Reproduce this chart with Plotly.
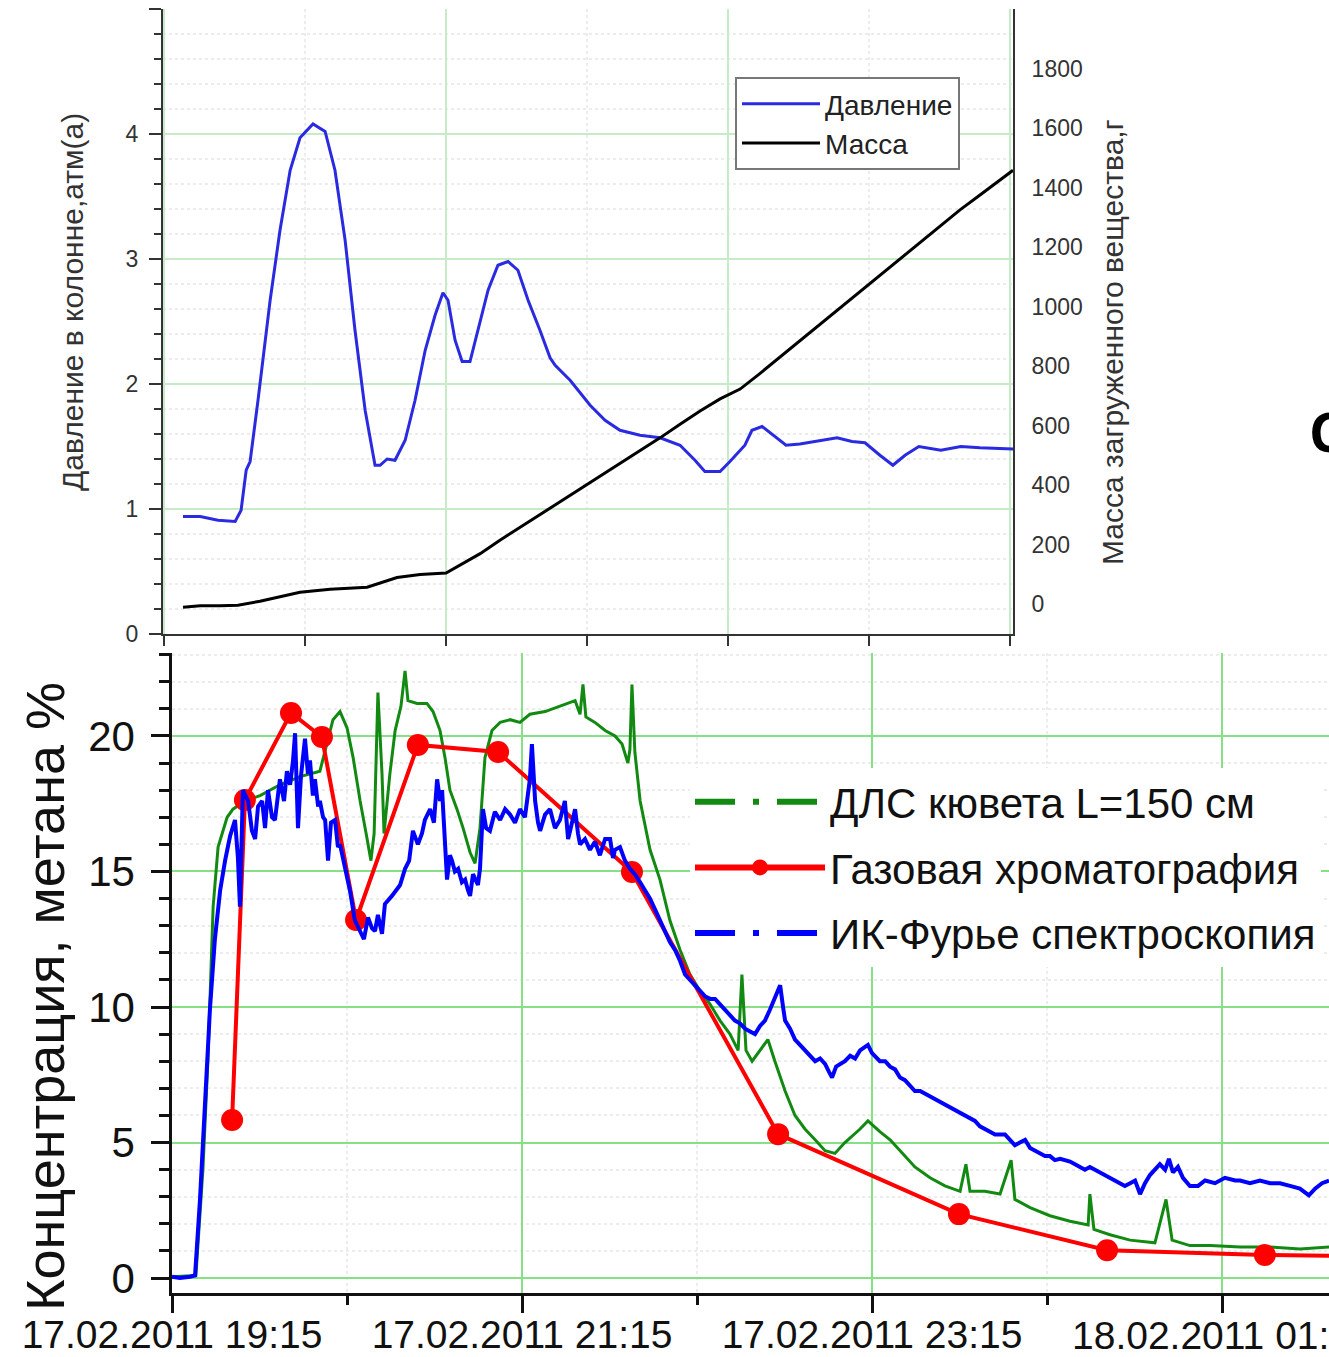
import plotly.graph_objects as go
import pandas as pd

# ---------------- top panel: pressure and loaded mass ----------------
# x in arbitrary time units of the upper chart (major grid step = 1)
press_t = [0.067, 0.128, 0.191, 0.252, 0.273, 0.291, 0.305, 0.333, 0.376, 0.411, 0.447, 0.482,
           0.528, 0.571, 0.606, 0.642, 0.677, 0.713, 0.748, 0.766, 0.791, 0.819, 0.855, 0.890,
           0.926, 0.961, 0.989, 1.007, 1.032, 1.057, 1.085, 1.113, 1.149, 1.184, 1.220, 1.255,
           1.291, 1.333, 1.369, 1.387, 1.440, 1.511, 1.564, 1.617, 1.688, 1.759, 1.830, 1.883,
           1.918, 1.972, 2.007, 2.060, 2.085, 2.121, 2.149, 2.206, 2.255, 2.326, 2.387, 2.440,
           2.486, 2.539, 2.585, 2.628, 2.677, 2.755, 2.826, 2.894, 3.011]
press_v = [0.94, 0.94, 0.91, 0.90, 0.99, 1.31, 1.38, 1.87, 2.67, 3.23, 3.71, 3.97,
           4.08, 4.02, 3.71, 3.15, 2.43, 1.79, 1.35, 1.35, 1.40, 1.39, 1.55, 1.87,
           2.27, 2.55, 2.73, 2.67, 2.35, 2.18, 2.18, 2.43, 2.75, 2.95, 2.98, 2.91,
           2.67, 2.43, 2.21, 2.15, 2.03, 1.83, 1.71, 1.63, 1.59, 1.57, 1.51, 1.39,
           1.30, 1.30, 1.38, 1.51, 1.63, 1.66, 1.61, 1.51, 1.52, 1.55, 1.57, 1.54,
           1.53, 1.43, 1.35, 1.43, 1.50, 1.47, 1.50, 1.49, 1.48]

mass_t = [0.067, 0.128, 0.199, 0.262, 0.340, 0.411, 0.482, 0.589, 0.720, 0.826, 0.908, 1.000,
          1.050, 1.121, 1.191, 1.262, 1.333, 1.404, 1.475, 1.546, 1.617, 1.688, 1.759, 1.830,
          1.901, 1.972, 2.043, 2.113, 2.184, 2.255, 2.326, 2.397, 2.468, 2.539, 2.610, 2.681,
          2.752, 2.823, 2.894, 2.965, 3.011]
mass_v = [-10, -5, -5, -3, 10, 25, 40, 50, 57, 90, 100, 105,
          131, 170, 215, 258, 300, 345, 388, 430, 472, 515, 559, 605,
          649, 690, 723, 775, 830, 885, 940, 995, 1050, 1105, 1160, 1215,
          1270, 1325, 1375, 1425, 1458]

# ---------------- bottom panel: methane concentration ----------------
start_time = "2011-02-17 19:15"
last_tick = "2011-02-18 01:15"
# minutes after 19:15
dls_min = [0, 8.2, 10.6, 12.3, 14.1, 15.8, 18.9, 20.9, 25.0, 30.2, 37.0, 43.9, 50.7, 55.2, 57.6,
           60.0, 62.1, 64.5, 66.9, 68.2, 69.3, 70.6, 72.0, 72.7, 74.7, 76.5, 78.5, 79.9, 80.9,
           84.0, 87.4, 89.5, 91.9, 93.6, 95.3, 97.7, 99.8, 102.2, 103.9, 105.6, 107.3, 109.7,
           112.5, 115.9, 119.3, 122.7, 127.9, 133.0, 138.2, 139.9, 140.9, 141.9, 145.0, 148.5,
           151.9, 154.3, 156.3, 157.0, 157.7, 158.7, 160.5, 163.9, 167.3, 170.7, 174.2, 177.6,
           181.0, 184.5, 187.9, 191.3, 194.1, 195.4, 196.8, 198.9, 201.6, 204.3, 206.7, 210.2,
           213.6, 217.0, 220.5, 223.9, 227.3, 230.7, 235.9, 238.6, 242.7, 246.2, 251.3, 254.7,
           259.9, 265.0, 270.2, 272.2, 273.6, 278.7, 283.9, 287.7, 289.0, 294.2, 301.0, 307.9,
           314.1, 314.7, 316.1, 321.6, 328.5, 337.0, 340.8, 342.9, 349.0, 355.9, 366.2, 376.5,
           386.7, 396.7]
dls_val = [0.05, 0.1, 4.0, 8.0, 13.7, 15.9, 17.0, 17.3, 17.6, 17.8, 18.2, 18.5, 18.7, 20.6, 20.9,
           20.3, 19.2, 17.6, 16.2, 15.4, 16.4, 21.6, 18.6, 16.4, 18.6, 20.2, 21.1, 22.4, 21.3,
           21.2, 21.2, 20.9, 20.2, 19.2, 18.0, 17.3, 16.6, 15.7, 15.3, 16.6, 19.2, 20.2,
           20.5, 20.6, 20.5, 20.8, 20.9, 21.1, 21.3, 20.8, 21.9, 20.7, 20.5, 20.2,
           20.0, 19.7, 19.0, 19.5, 21.9, 19.4, 17.6, 15.8, 14.7, 13.2, 12.1, 11.2,
           10.6, 10.1, 9.5, 9.0, 8.4, 11.2, 8.4, 8.0, 8.4, 8.8, 8.0, 6.9,
           6.0, 5.5, 5.1, 4.7, 4.6, 5.0, 5.5, 5.8, 5.4, 5.1, 4.5, 4.1,
           3.7, 3.4, 3.2, 4.2, 3.2, 3.2, 3.1, 4.35, 2.9, 2.6, 2.3, 2.1,
           1.96, 3.1, 1.8, 1.6, 1.4, 1.3, 2.9, 1.4, 1.2, 1.2, 1.15, 1.15,
           1.07, 1.15]

gc_min = [20.6, 25.0, 40.8, 51.4, 63.1, 84.3, 111.8, 157.7, 207.8, 269.8, 320.6, 374.7, 425.0]
gc_val = [5.83, 17.64, 20.85, 19.96, 13.21, 19.67, 19.41, 14.98, 5.31, 2.36, 1.03, 0.85, 0.80]

ftir_min = [0, 2.7, 6.2, 7.9, 9.6, 11.3, 13.0, 14.7, 16.5, 18.2, 19.9, 21.6, 22.6, 23.3, 24.3,
            26.1, 27.4, 28.5, 29.5, 30.9, 31.9, 32.9, 34.3, 35.3, 37.0, 38.4, 39.4, 40.5, 41.5,
            42.2, 43.2, 44.2, 45.6, 46.6, 47.3, 48.3, 49.0, 50.1, 50.7, 51.8, 52.5, 53.5, 54.5,
            55.9, 56.9, 57.6, 59.3, 61.0, 62.7, 64.5, 65.8, 67.2, 68.6, 69.6, 70.6, 72.0, 73.0,
            75.4, 78.2, 79.9, 81.3, 82.6, 84.3, 85.7, 86.7, 88.5, 89.8, 90.9, 91.9, 92.6, 93.6,
            94.3, 95.3, 96.0, 97.0, 98.1, 99.4, 100.5, 101.5, 102.2, 103.2, 103.9, 104.9, 105.6,
            106.6, 107.7, 109.0, 110.7, 112.5, 114.2, 115.9, 117.6, 119.3, 121.0, 122.7, 123.4,
            124.5, 125.5, 126.2, 127.9, 129.6, 131.3, 133.0, 134.7, 135.8, 136.5, 138.2, 139.2,
            139.9, 141.6, 143.3, 145.0, 146.7, 148.5, 150.2, 151.2, 151.9, 153.6, 155.3, 157.0,
            158.7, 160.5, 162.2, 163.9, 165.6, 167.3, 169.0, 170.7, 172.5, 174.2, 175.9, 177.6,
            179.3, 181.0, 182.7, 184.5, 186.2, 187.9, 189.6, 191.3, 193.0, 194.7, 196.5, 198.2,
            199.9, 201.6, 203.3, 205.0, 206.7, 208.5, 209.5, 210.2, 211.9, 213.6, 215.3, 217.0,
            218.7, 220.5, 222.2, 223.9, 225.3, 226.3, 227.7, 229.0, 230.7, 232.5, 234.2, 235.9,
            237.6, 238.6, 240.0, 241.0, 242.7, 244.5, 246.2, 247.9, 249.6, 251.3, 253.0, 254.7,
            256.5, 258.2, 259.9, 261.6, 263.3, 265.0, 266.7, 268.5, 270.2, 271.9, 273.6, 275.3,
            277.0, 278.7, 280.5, 282.2, 283.9, 285.6, 287.3, 289.0, 290.7, 292.5, 294.2, 295.9,
            297.6, 299.3, 301.0, 302.7, 304.5, 306.2, 307.9, 309.6, 311.3, 313.0, 314.7, 316.5,
            318.2, 319.9, 321.6, 323.3, 325.0, 326.7, 328.5, 330.2, 331.9, 333.6, 335.3, 337.0,
            338.7, 340.5, 341.8, 343.2, 344.9, 346.6, 349.0, 351.8, 354.2, 357.6, 361.0, 364.5,
            366.2, 369.6, 373.0, 376.5, 379.9, 383.3, 386.7, 389.8, 391.9, 394.3, 396.7]
ftir_val = [0.05, 0.0, 0.05, 0.1, 2.9, 6.6, 9.9, 12.5, 14.3, 15.4, 16.3, 16.9, 15.5, 13.7, 18.0,
            17.6, 16.5, 16.2, 17.4, 17.6, 16.6, 18.0, 17.0, 16.9, 18.4, 17.6, 18.7, 18.2, 19.1,
            20.1, 16.6, 18.5, 19.9, 18.6, 19.1, 17.8, 18.4, 17.4, 17.6, 17.0, 16.9, 15.4, 16.8,
            16.9, 15.9, 16.0, 15.1, 14.3, 13.2, 12.8, 12.5, 13.3, 12.9, 12.8, 13.4, 12.7, 13.8,
            14.1, 14.5, 15.1, 15.4, 16.5, 16.0, 16.4, 16.9, 17.3, 16.8, 18.4, 17.6, 18.0, 16.2,
            14.7, 15.6, 15.4, 15.0, 15.1, 14.6, 14.7, 14.3, 14.1, 14.9, 14.7, 14.5, 15.1,
            17.3, 16.6, 16.5, 17.2, 16.9, 17.3, 17.1, 16.8, 17.3, 17.0, 18.4, 19.7,
            17.6, 16.8, 16.5, 17.1, 17.3, 16.6, 16.9, 17.6, 16.2, 16.5, 17.3, 16.4,
            16.0, 16.2, 15.8, 16.1, 15.6, 16.2, 16.2, 15.5, 15.8, 15.9, 15.4, 15.1,
            14.9, 14.6, 14.3, 14.0, 13.6, 13.2, 12.8, 12.4, 12.1, 11.7, 11.2, 11.0,
            10.8, 10.6, 10.4, 10.3, 10.3, 10.1, 9.9, 9.7, 9.5, 9.4, 9.2, 9.1,
            9.0, 9.3, 9.5, 9.9, 10.3, 10.8, 10.0, 9.5, 9.2, 8.8, 8.6, 8.4,
            8.2, 8.0, 8.1, 7.9, 7.6, 7.4, 7.8, 7.9, 8.0, 8.2, 8.1, 8.4,
            8.5, 8.6, 8.3, 8.2, 8.0, 8.0, 7.8, 7.7, 7.4, 7.3, 7.1, 6.9,
            6.9, 6.8, 6.7, 6.6, 6.5, 6.4, 6.3, 6.2, 6.1, 6.0, 5.9, 5.8,
            5.6, 5.5, 5.4, 5.3, 5.3, 5.3, 5.1, 4.9, 5.0, 5.1, 4.8, 4.7,
            4.6, 4.5, 4.5, 4.35, 4.4, 4.35, 4.3, 4.2, 4.1, 4.0, 4.1, 4.0,
            3.9, 3.8, 3.7, 3.6, 3.5, 3.4, 3.5, 3.6, 3.1, 3.5, 3.8, 4.0,
            4.2, 4.0, 4.4, 3.9, 4.1, 3.7, 3.4, 3.4, 3.6, 3.5, 3.7, 3.6,
            3.6, 3.5, 3.6, 3.5, 3.5, 3.4, 3.3, 3.05, 3.3, 3.5, 3.6]

base = pd.Timestamp(start_time)
to_time = lambda mins: [base + pd.Timedelta(minutes=m) for m in mins]

GREEN = "#128a12"
RED = "#ff0000"
BLUE = "#0000ff"
FONT = "Liberation Sans, Arial, sans-serif"

fig = go.Figure()

# top traces
fig.add_trace(go.Scatter(x=press_t, y=press_v, mode="lines", name="Давление",
                         line=dict(color="#2a2ae0", width=3), xaxis="x", yaxis="y",
                         legend="legend2"))
fig.add_trace(go.Scatter(x=mass_t, y=mass_v, mode="lines", name="Масса",
                         line=dict(color="#000000", width=3), xaxis="x", yaxis="y2",
                         legend="legend2"))

# bottom traces
fig.add_trace(go.Scatter(x=to_time(dls_min), y=dls_val, mode="lines", showlegend=False,
                         line=dict(color=GREEN, width=3), xaxis="x3", yaxis="y3"))
fig.add_trace(go.Scatter(x=to_time(gc_min), y=gc_val, mode="lines+markers", showlegend=False,
                         line=dict(color=RED, width=4), marker=dict(color=RED, size=22),
                         xaxis="x3", yaxis="y3"))
fig.add_trace(go.Scatter(x=to_time(ftir_min), y=ftir_val, mode="lines", showlegend=False,
                         line=dict(color=BLUE, width=4), xaxis="x3", yaxis="y3"))

# legend entries of the bottom chart
dash_pat = "40px,18px,6px,18px"
fig.add_trace(go.Scatter(x=[None], y=[None], mode="lines", name="ДЛС кювета L=150 см",
                         line=dict(color=GREEN, width=6, dash=dash_pat), legendgroup="a",
                         xaxis="x3", yaxis="y3"))
fig.add_trace(go.Scatter(x=[None], y=[None], mode="lines+markers", name="Газовая хроматография",
                         line=dict(color=RED, width=6), marker=dict(color=RED, size=24),
                         legendgroup="b", xaxis="x3", yaxis="y3"))
fig.add_trace(go.Scatter(x=[None], y=[None], mode="lines", name="ИК-Фурье спектроскопия",
                         line=dict(color=BLUE, width=6, dash=dash_pat), legendgroup="c",
                         xaxis="x3", yaxis="y3"))

W, H = 1329, 1357
px = lambda v: v / W
py = lambda v: 1 - v / H

top_grid = "#c6ebc6"
minor_grid = "#ececec"
bot_grid = "#86e086"

fig.update_layout(
    width=W, height=H,
    margin=dict(l=0, r=0, t=0, b=0),
    paper_bgcolor="white", plot_bgcolor="rgba(0,0,0,0)",
    font=dict(family=FONT, color="#222"),
    xaxis=dict(domain=[px(163), px(1013)], range=[-0.004, 3.011], anchor="y",
               showticklabels=False, ticks="outside", ticklen=10, tickwidth=2,
               tickcolor="#333", dtick=1, tick0=0, showline=True, linecolor="#333",
               linewidth=2, showgrid=True, gridcolor=top_grid, gridwidth=1.5,
               zeroline=False, automargin=False,
               minor=dict(dtick=0.5, ticks="outside", ticklen=10, tickwidth=2,
                          tickcolor="#333", showgrid=True, gridcolor=minor_grid,
                          griddash="dot")),
    yaxis=dict(domain=[py(634), py(9)], range=[0, 5.0], anchor="x",
               ticks="outside", ticklen=12, tickwidth=2, tickcolor="#333",
               dtick=1, tick0=0, showline=True, linecolor="#333", linewidth=2,
               showgrid=True, gridcolor=top_grid, gridwidth=1.5, zeroline=False,
               tickfont=dict(size=23, color="#333"), ticklabelstandoff=6,
               automargin=False,
               minor=dict(dtick=0.2, ticks="outside", ticklen=7, tickwidth=2,
                          tickcolor="#333", showgrid=True, gridcolor=minor_grid,
                          griddash="dot")),
    yaxis2=dict(overlaying="y", side="right", anchor="x", range=[-100, 2000],
                dtick=200, tick0=0, ticks="", showline=True, linecolor="#333",
                linewidth=2, showgrid=False, zeroline=False,
                tickfont=dict(size=23, color="#333"), ticklabelstandoff=12,
                automargin=False),
    xaxis3=dict(domain=[px(172), 1.0], type="date",
                range=["2011-02-17 19:15:00", "2011-02-18 01:51:41"], anchor="y3",
                tick0="2011-02-17 19:15", dtick=7200000, tickformat="%d.%m.%Y %H:%M",
                ticks="outside", ticklen=17, tickwidth=2.5, tickcolor="#111",
                showline=True, linecolor="#111", linewidth=2.5, showgrid=True,
                gridcolor=bot_grid, gridwidth=1.5, zeroline=False,
                tickfont=dict(size=39, color="#111"), ticklabelstandoff=-12,
                automargin=False,
                minor=dict(tick0="2011-02-17 19:15", dtick=3600000, ticks="outside",
                           ticklen=9, tickwidth=2.5, tickcolor="#111", showgrid=True,
                           gridcolor=minor_grid, griddash="dot")),
    yaxis3=dict(domain=[py(1293), py(653)], range=[-0.55, 23.06], anchor="x3",
                dtick=5, tick0=0, ticks="outside", ticklen=18, tickwidth=2.5,
                tickcolor="#111", showline=True, linecolor="#111", linewidth=2.5,
                showgrid=True, gridcolor=bot_grid, gridwidth=1.5, zeroline=False,
                tickfont=dict(size=42, color="#111"), ticklabelstandoff=8,
                automargin=False,
                minor=dict(dtick=1, ticks="outside", ticklen=10, tickwidth=2.5,
                           tickcolor="#111", showgrid=True, gridcolor=minor_grid,
                           griddash="dot")),
    legend=dict(x=px(690), y=py(768), xanchor="left", yanchor="top",
                bgcolor="white", borderwidth=0, tracegroupgap=8, itemwidth=130,
                font=dict(size=42, color="#111", family=FONT), traceorder="grouped"),
    legend2=dict(x=px(735), y=py(77), xanchor="left", yanchor="top",
                 bgcolor="white", bordercolor="#777", borderwidth=2, itemwidth=78,
                 tracegroupgap=0,
                 font=dict(size=28, color="#222", family=FONT)),
    annotations=[
        dict(text="Давление в колонне,атм(а)", xref="paper", yref="paper",
             x=px(72), y=py(302), xanchor="center", yanchor="middle",
             textangle=-90, showarrow=False, font=dict(size=30, color="#333")),
        dict(text="Масса загруженного вещества,г", xref="paper", yref="paper",
             x=px(1112), y=py(342), xanchor="center", yanchor="middle",
             textangle=-90, showarrow=False, font=dict(size=30, color="#333")),
        dict(text="Концентрация, метана %", xref="paper", yref="paper",
             x=px(45), y=py(997), xanchor="center", yanchor="middle",
             textangle=-90, showarrow=False, font=dict(size=54, color="#111")),
        dict(text="<b>С</b>", xref="paper", yref="paper", x=px(1307), y=py(431),
             xanchor="left", yanchor="middle", showarrow=False,
             font=dict(size=54, color="#000", family="Open Sans, sans-serif")),
        # last date label, which runs past the right edge of the picture
        dict(text="18.02.2011 01:15", xref="x3", yref="paper", x=last_tick,
             y=py(1335), xanchor="center", yanchor="middle", showarrow=False,
             font=dict(size=39, color="#111")),
    ],
)

fig.write_html("out.html")
